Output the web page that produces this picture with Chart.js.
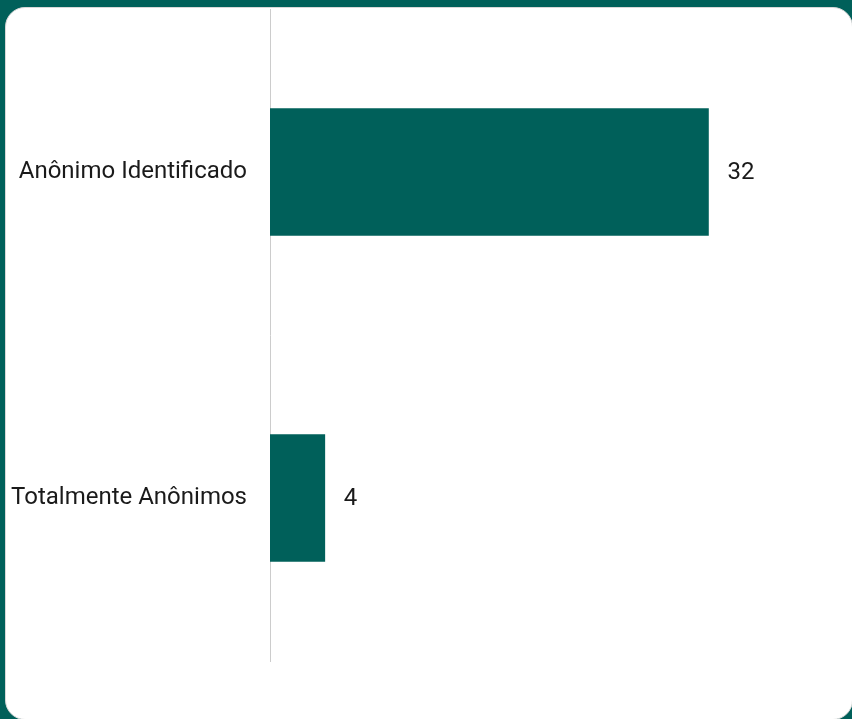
<!DOCTYPE html>
<html>
<head>
<meta charset="utf-8">
<script src="https://cdn.jsdelivr.net/npm/chart.js@4/dist/chart.umd.min.js"></script>
<style>
  html, body { margin: 0; padding: 0; width: 852px; height: 719px; overflow: hidden; background: #00605a; }
  .card {
    position: absolute; left: 5px; top: 7px; width: 848px; height: 713px;
    background: #fff; border-radius: 20px; border: 1px solid #d8d8d8; box-sizing: border-box;
  }
  #chartWrap { position: absolute; left: 0; top: 0; width: 852px; height: 719px; }
</style>
</head>
<body>
<div class="card"></div>
<div id="chartWrap"><canvas id="anonChart"></canvas></div>
<script>
const categories = ["Anônimo Identificado", "Totalmente Anônimos"];
const counts = [32, 4];
const xMax = 41.6;

const barColor = "#00605a";

// rótulos de valor ao lado das barras
const valueLabels = {
  id: "valueLabels",
  afterDatasetsDraw(chart) {
    const ctx = chart.ctx;
    const meta = chart.getDatasetMeta(0);
    ctx.save();
    ctx.font = "24px Roboto";
    ctx.fillStyle = "#1a1a1a";
    ctx.textAlign = "left";
    ctx.textBaseline = "middle";
    meta.data.forEach((bar, i) => {
      ctx.fillText(String(counts[i]), bar.x + 19, bar.y + 1);
    });
    ctx.restore();
  }
};

const ctx = document.getElementById("anonChart").getContext("2d");
new Chart(ctx, {
  type: "bar",
  data: {
    labels: categories,
    datasets: [{
      data: counts,
      backgroundColor: barColor,
      barThickness: 127
    }]
  },
  options: {
    indexAxis: "y",
    responsive: true,
    maintainAspectRatio: false,
    animation: false,
    layout: { padding: { top: 9, bottom: 58, left: 0, right: 12 } },
    plugins: {
      legend: { display: false },
      tooltip: { enabled: false }
    },
    scales: {
      x: { display: false, min: 0, max: xMax },
      y: {
        afterFit(scale) {
          scale.width = 270;
          scale.paddingTop = 0;
          scale.paddingBottom = 0;
        },
        grid: { display: false, drawTicks: false },
        border: { display: true, color: "#cccccc", width: 1 },
        ticks: {
          padding: 23,
          color: "#1a1a1a",
          font: { family: "Roboto", size: 24 }
        }
      }
    }
  },
  plugins: [valueLabels]
});
</script>
</body>
</html>
